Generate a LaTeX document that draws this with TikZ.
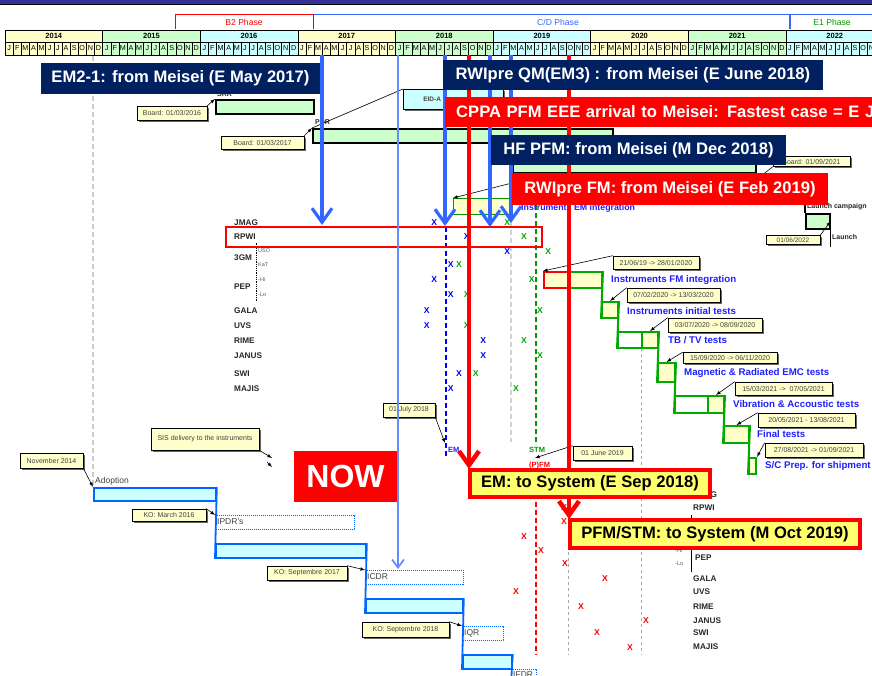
\documentclass[tikz,border=0pt]{standalone}
\usepackage{fontspec}
\setmainfont{Liberation Sans}
\usetikzlibrary{positioning,shadows,arrows,arrows.meta}

\definecolor{topbar}{RGB}{51,51,153}
\definecolor{yelc}{RGB}{255,255,204}
\definecolor{grnc}{RGB}{204,255,204}
\definecolor{cyac}{RGB}{204,255,255}
\definecolor{cream}{RGB}{255,255,204}
\definecolor{navy}{RGB}{0,32,96}
\definecolor{cdblue}{RGB}{51,102,255}
\definecolor{eogreen}{RGB}{0,153,0}
\definecolor{arrowblue}{RGB}{51,102,255}
\definecolor{thinblue}{RGB}{102,140,255}
\definecolor{barblue}{RGB}{0,102,255}
\definecolor{stairgreen}{RGB}{0,170,0}
\definecolor{labblue}{RGB}{30,30,255}
\definecolor{xgreen}{RGB}{0,170,0}
\definecolor{sysyellow}{RGB}{255,255,110}

\begin{document}
\begin{tikzpicture}[x=1pt,y=-1pt,>=latex,
  yearcell/.style={draw,line width=0.6pt,minimum width=97.62pt,minimum height=12pt,inner sep=0pt,font=\bfseries\fontsize{7.5}{8}\selectfont},
  monthcell/.style={draw,line width=0.5pt,minimum width=8.135pt,minimum height=13pt,inner sep=0pt,font=\fontsize{7.2}{8}\selectfont},
  phase/.style={inner sep=0pt,font=\fontsize{8.6}{10}\selectfont},
  bar/.style={draw,line width=1.6pt,fill=grnc,inner sep=0pt,anchor=north west},
  callout/.style={draw,line width=0.6pt,fill=cream,inner sep=0pt,font=\fontsize{7}{8}\selectfont,text=black!75,drop shadow={shadow xshift=1.6pt,shadow yshift=-1.6pt,fill=black!60,opacity=1}},
  banner/.style={fill=navy,inner sep=0pt,text=white,font=\bfseries\fontsize{16.6}{18}\selectfont},
  sysbox/.style={draw=red,line width=4pt,fill=sysyellow,inner sep=0pt,font=\bfseries\fontsize{16.6}{18}\selectfont},
  inst/.style={anchor=west,inner sep=0pt,font=\bfseries\fontsize{8.2}{9}\selectfont,text=black!85},
  subl/.style={anchor=west,inner sep=0pt,font=\fontsize{5.5}{6}\selectfont,text=black!65},
  xmark/.style={inner sep=0pt,font=\bfseries\fontsize{8.6}{9}\selectfont},
  stair/.style={draw=stairgreen,line width=2pt,fill=yelc,inner sep=0pt,anchor=north west},
  steplbl/.style={anchor=west,inner sep=0pt,text=labblue,font=\bfseries\fontsize{9.7}{11}\selectfont},
  bluebar/.style={draw=barblue,line width=1.8pt,fill=cyac,inner sep=0pt,anchor=north west},
  dotbox/.style={draw=barblue,line width=1pt,densely dotted,inner sep=0pt,anchor=north west},
  barlbl/.style={anchor=west,inner sep=0pt,font=\fontsize{8.5}{9}\selectfont,text=black!75},
  bigblue/.style={arrowblue,line width=3.2pt,-{Straight Barb[length=14pt,width=20pt]}},
  bigred/.style={red,line width=4.5pt,-{Straight Barb[length=14pt,width=20pt]}},
  guide/.style={dashed,line width=1.5pt,dash pattern=on 5pt off 3pt}
  ]
  \useasboundingbox (0,0) rectangle (872,676);

  % header
  \fill[topbar] (0,0) rectangle (872,4);
  \draw[line width=1pt] (0,5) -- (872,5);
  \node[phase,text=red] (ptwo) at (244,22) {B2 Phase};
  \draw[red,line width=1pt] (175,29) -- (175,15) -- (313,15) -- (313,29);
  \node[phase,text=cdblue] (pcd) at (558,22) {C/D Phase};
  \draw[cdblue,line width=1pt] (314,15) -- (872,15);
  \draw[cdblue,line width=1.8pt] (790,15) -- (790,29);
  \node[phase,text=eogreen] (pone) at (832,22) {E1 Phase};
  \foreach \yr/\col [count=\i from 0] in {2014/yelc,2015/grnc,2016/cyac,2017/yelc,2018/grnc,2019/cyac,2020/yelc,2021/grnc,2022/cyac}{
    \node[yearcell,fill=\col] (yr\yr) at ({53.81+97.62*\i},36) {\yr};
    \foreach \ml [count=\j from 0] in {J,F,M,A,M,J,J,A,S,O,N,D}
      \node[monthcell,fill=\col] (mo\yr-\j) at ({9.07+97.62*\i+8.135*\j},48.5) {\ml};
  }

  % reviews
  \draw[black!20,guide,line width=1.3pt] (93,56) -- (93,487);
  \node[bar,minimum width=98pt,minimum height=14pt] (srr) at (215,99) {};
  \node[bar,minimum width=300pt,minimum height=14pt] (pdr) at (312,128) {};
  \node[bar,minimum width=243pt,minimum height=32pt] (farbar) at (512,140) {};
  \node[inst,font=\bfseries\fontsize{7}{8}\selectfont] (lsrr) at (217,94.5) {SRR};
  \node[inst,font=\bfseries\fontsize{7}{8}\selectfont] (lpdr) at (315,122) {PDR};
  \node[callout,minimum width=70pt,minimum height=14pt] (brdsrr) at (172,113) {Board: 01/03/2016};
  \node[callout,minimum width=83pt,minimum height=13pt] (brdpdr) at (262.5,142.5) {Board: 01/03/2017};
  \node[callout,fill=cyac,anchor=north west,minimum width=100pt,minimum height=20pt,text width=60pt,align=left,font=\bfseries\fontsize{6.5}{7}\selectfont] (eida) at (403,89) {EID-A};
  \node[callout,minimum width=77pt,minimum height=10pt] (brdfar) at (811.5,161.5) {Board: 01/09/2021};
  \coordinate (farend) at (761,176);
  \draw[-latex,line width=0.6pt] (brdsrr.north east) -- (srr.north west);
  \draw[-latex,line width=0.6pt] (brdpdr.north east) -- (pdr.north west);
  \draw[line width=0.6pt] (pdr.north west) -- (eida.north west);
  \draw[line width=0.6pt] (brdfar.south west) -- (farend);

  % launch
  \node[bar,minimum width=24pt,minimum height=15pt] (launch) at (805,213) {};
  \draw[line width=1.6pt] (launch.north west) -- ++(0,-10);
  \draw[line width=1.6pt] (launch.south east) -- ++(0,17);
  \node[inst,font=\bfseries\fontsize{7}{8}\selectfont] (llaunchc) at (807,207) {Launch campaign};
  \node[inst,font=\bfseries\fontsize{7}{8}\selectfont] (llaunch) at (832,237) {Launch};
  \node[callout,minimum width=54pt,minimum height=9pt,font=\fontsize{6.5}{7}\selectfont] (lchdate) at (793,240) {01/06/2022};
  \draw[-latex,line width=0.6pt] (lchdate.north east) -- (launch.east);

  % instruments (upper list)
  \foreach \nm/\yy in {JMAG/222.7,RPWI/236.7,3GM/257.7,PEP/286.7,GALA/310.7,UVS/326,RIME/340.7,JANUS/355.7,SWI/373.3,MAJIS/389}
    \node[inst] (up\nm) at (234,\yy) {\nm};
  \foreach \sl/\yy [count=\k] in {USO/250.7,KaT/264.7,-Hi/279.3,-Lo/294.7}
    \node[subl] (usub\k) at (258,\yy) {\sl};
  \draw[densely dotted,line width=0.8pt] (256.7,242.7) -- (256.7,301.7);

  % guide lines
  \draw[blue,guide] (446,227) -- (446,457);
  \draw[black!18,guide] (511,222) -- (511,442);
  \draw[eogreen,guide] (536,205) -- (536,445);
  \draw[red,guide] (536,470) -- (536,655);
  \draw[black!35,dashed,line width=0.7pt] (568,552) -- (568,655);
  \draw[black!35,dashed,line width=0.7pt] (641,348) -- (641,655);

  \foreach \px/\py [count=\k] in {434.3/222.7,466.7/237,507.3/251.3,450.7/264.7,434.3/279.3,450.7/294.7,426.7/310.7,426.7/326,483.3/341,483.3/356,459/373.3,450.7/389}
    \node[xmark,text=blue] (bx\k) at (\px,\py) {X};
  \foreach \px/\py [count=\k] in {507.3/222.7,524/237,548.3/251.3,459/264.7,531.7/279.3,466.7/294.7,540/310.7,466.7/326,524/341,540/356,475.7/373.3,516/389}
    \node[xmark,text=xgreen] (gx\k) at (\px,\py) {X};

  \node[inst,text=labblue,font=\bfseries\fontsize{7.5}{8}\selectfont] (lem) at (448,450) {EM};
  \node[inst,text=eogreen,font=\bfseries\fontsize{7.5}{8}\selectfont] (lstm) at (529,450) {STM};
  \node[inst,text=red,font=\bfseries\fontsize{7.5}{8}\selectfont] (lpfm) at (529,466) {(P)FM};
  \coordinate (emmark) at (445,443);
  \coordinate (stmmark) at (535,458);
  \node[callout,minimum width=52pt,minimum height=14pt] (cjul) at (409,410) {01 July 2018};
  \node[callout,minimum width=59pt,minimum height=14pt] (cjun) at (602.5,453) {01 June 2019};
  \draw[-latex,line width=0.6pt] (cjul.south east) -- (emmark);
  \draw[-latex,line width=0.6pt] (cjun.north west) -- (stmmark);

  % integration and tests
  \node[stair,draw=eogreen,line width=1.4pt,minimum width=57pt,minimum height=16pt] (emint) at (453,198) {};
  \node[steplbl,font=\bfseries\fontsize{8.8}{10}\selectfont] (lemint) at (521,208) {Instruments EM integration};
  \coordinate (emintc) at (512,183);
  \draw[-latex,line width=0.6pt] (emintc) -- (emint.north west);

  \node[stair,draw=red,minimum width=26pt,minimum height=16pt] (fmred) at (543,271) {};
  \node[stair,minimum width=32pt,minimum height=16pt] (fmint) at (569,271) {};
  \node[stair,minimum width=16pt,minimum height=16pt] (init) at (601,301) {};
  \node[stair,fill=white,minimum width=24pt,minimum height=16pt] (tbw) at (617,331) {};
  \node[stair,minimum width=16pt,minimum height=16pt] (tbtv) at (641,331) {};
  \node[stair,minimum width=17pt,minimum height=19pt] (emc) at (657,362) {};
  \node[stair,fill=white,minimum width=33pt,minimum height=17pt] (vibw) at (674,395) {};
  \node[stair,minimum width=16pt,minimum height=17pt] (vib) at (707,395) {};
  \node[stair,minimum width=25pt,minimum height=17pt] (fin) at (723,425) {};
  \node[stair,minimum width=7pt,minimum height=16pt] (ship) at (748,457) {};
  \draw[stairgreen,line width=2pt] (fmint.north east) -- (init.south west);
  \draw[stairgreen,line width=2pt] (init.north east) -- (tbw.south west);
  \draw[stairgreen,line width=2pt] (tbtv.north east) -- (emc.south west);
  \draw[stairgreen,line width=2pt] (emc.north east) -- (vibw.south west);
  \draw[stairgreen,line width=2pt] (vib.north east) -- (fin.south west);
  \draw[stairgreen,line width=2pt] (fin.north east) -- (ship.south west);

  \node[steplbl] (lfm) at (611,280) {Instruments FM integration};
  \node[steplbl] (linit) at (627,311) {Instruments initial tests};
  \node[steplbl] (ltbtv) at (668,340) {TB / TV tests};
  \node[steplbl] (lemc) at (684,373) {Magnetic \& Radiated EMC tests};
  \node[steplbl] (lvib) at (733,404) {Vibration \& Accoustic tests};
  \node[steplbl] (lfin) at (757,434) {Final tests};
  \node[steplbl] (lship) at (765,466) {S/C Prep. for shipment};

  \node[callout,minimum width=86pt,minimum height=13pt] (cfm) at (656,262.5) {21/06/19 -> 28/01/2020};
  \node[callout,minimum width=93pt,minimum height=14pt] (cinit) at (673.5,295) {07/02/2020 -> 13/03/2020};
  \node[callout,minimum width=94pt,minimum height=14pt] (ctbtv) at (715,325) {03/07/2020 -> 08/09/2020};
  \node[callout,minimum width=94pt,minimum height=11pt] (cemc) at (730,358) {15/09/2020 -> 06/11/2020};
  \node[callout,minimum width=97pt,minimum height=13pt] (cvib) at (783.5,388.5) {15/03/2021 ->~ 07/05/2021};
  \node[callout,minimum width=97pt,minimum height=14pt] (cfin) at (806.5,420) {20/05/2021 - 13/08/2021};
  \node[callout,minimum width=98pt,minimum height=14pt] (cship) at (814,450) {27/08/2021 -> 01/09/2021};
  \draw[-latex,line width=0.6pt] (cfm.north west) -- (fmred.north west);
  \draw[-latex,line width=0.6pt] (cinit.north west) -- (init.north);
  \draw[-latex,line width=0.6pt] (ctbtv.north west) -- (tbtv.north);
  \draw[-latex,line width=0.6pt] (cemc.north west) -- (emc.north);
  \draw[-latex,line width=0.6pt] (cvib.north west) -- (vib.north);
  \draw[-latex,line width=0.6pt] (cfin.north west) -- (fin.north);
  \draw[-latex,line width=0.6pt] (cship.north west) -- (ship.north east);

  % instrument reviews (blue)
  \node[bluebar,minimum width=122pt,minimum height=13pt] (adopt) at (93,487) {};
  \node[dotbox,minimum width=139pt,minimum height=14pt] (ipdr) at (215,515) {};
  \node[bluebar,minimum width=150pt,minimum height=14pt] (kopre) at (215,543) {};
  \node[dotbox,minimum width=98pt,minimum height=14pt] (icdr) at (365,570) {};
  \node[bluebar,minimum width=97pt,minimum height=14pt] (kocdr) at (365,598) {};
  \node[dotbox,minimum width=41pt,minimum height=14pt] (iqr) at (462,626) {};
  \node[bluebar,minimum width=49pt,minimum height=14pt] (koqr) at (462,654) {};
  \node[dotbox,minimum width=25pt,minimum height=14pt] (ifdr) at (511,669) {};
  \draw[barblue,line width=1.8pt] (adopt.north east) -- (kopre.south west);
  \draw[barblue,line width=1.8pt] (kopre.north east) -- (kocdr.south west);
  \draw[barblue,line width=1.8pt] (kocdr.north east) -- (koqr.south west);
  \draw[barblue,line width=1.8pt] (koqr.north east) -- (ifdr.south west);
  \node[barlbl] (ladopt) at (95,481) {Adoption};
  \node[barlbl] (lipdr) at (217,522) {IPDR's};
  \node[barlbl] (licdr) at (367,577) {ICDR};
  \node[barlbl] (liqr) at (464,633) {IQR};
  \node[barlbl] (lifdr) at (513,675) {IFDR};

  \node[callout,minimum width=63pt,minimum height=15pt] (cnov) at (51.5,460.5) {November 2014};
  \node[callout,minimum width=108pt,minimum height=22pt] (csis) at (205,439) {SIS delivery to the instruments};
  \node[callout,minimum width=74pt,minimum height=12pt] (ckom) at (169,515) {KO: March 2016};
  \node[callout,minimum width=80pt,minimum height=14pt] (ckoa) at (307,573) {KO: Septembre 2017};
  \node[callout,minimum width=87pt,minimum height=15pt] (ckob) at (405.5,629.5) {KO: Septembre 2018};
  \coordinate (sisend) at (272,458);
  \coordinate (sisa) at (267,462);
  \coordinate (sisb) at (272,467);
  \draw[-latex,line width=0.6pt] (cnov.south east) -- (adopt.north west);
  \draw[-latex,line width=0.6pt] (csis.south east) -- (sisend);
  \draw[->,line width=0.6pt] (sisa) -- (sisb);
  \draw[-latex,line width=0.6pt] (ckom.north east) -- (ipdr.north west);
  \draw[-latex,line width=0.6pt] (ckoa.north east) -- (icdr.north west);
  \draw[-latex,line width=0.6pt] (ckob.north east) -- (iqr.north west);

  % instruments (lower list)
  \foreach \nm/\yy in {JMAG/495,RPWI/508,GALA/579,UVS/592,RIME/607,JANUS/621,SWI/633,MAJIS/647}
    \node[inst] (lo\nm) at (693,\yy) {\nm};
  \node[inst] (loPEP) at (695,558) {PEP};
  \node[subl] (lsubhi) at (675,551) {-Hi};
  \node[subl] (lsublo) at (675,564) {-Lo};
  \draw[line width=1pt] (691,515) -- (691,572);
  \foreach \px/\py [count=\k] in {564/508,564/522,524/537,541/551,565/564,605/579,516/592,581/607,646/621,597/633,630/648}
    \node[xmark,text=red] (rx\k) at (\px,\py) {X};

  \draw[red,line width=2.5pt] (226,227) rectangle (542,247);

  % deliveries
  \node[fill=red,inner sep=0pt,minimum width=103pt,minimum height=51pt,text=white,font=\bfseries\fontsize{32}{34}\selectfont] (NOW) at (345.5,476.5) {NOW};
  \coordinate (tb0) at (398,55);  \coordinate (eb0) at (398,569);
  \coordinate (tb1) at (322,55);  \coordinate (eb1) at (322,225);
  \coordinate (tb2) at (445,55);  \coordinate (eb2) at (445,226);
  \coordinate (tb3) at (490,55);  \coordinate (eb3) at (490,227);
  \coordinate (tb4) at (511,55);  \coordinate (eb4) at (511,223);
  \coordinate (tr1) at (469,55);  \coordinate (er1) at (469,469);
  \coordinate (tr2) at (569,55);  \coordinate (er2) at (569,519);
  \draw[thinblue,line width=1.8pt,-{Straight Barb[length=8pt,width=12pt]}] (tb0) -- (eb0);
  \draw[bigblue] (tb1) -- (eb1);
  \draw[bigblue] (tb2) -- (eb2);
  \draw[bigblue] (tb3) -- (eb3);
  \draw[bigblue] (tb4) -- (eb4);
  \draw[bigred] (tr1) -- (er1);
  \draw[bigred] (tr2) -- (er2);

  \node[banner,minimum width=279pt,minimum height=31pt] (emtwo) at (180.5,78.5) {EM2-1: from Meisei (E May 2017)};
  \node[banner,minimum width=380pt,minimum height=30pt] (rwiqm) at (633,75) {RWIpre QM(EM3) : from Meisei (E June 2018)};
  \node[banner,fill=red,anchor=west,minimum height=30pt,text width=440pt,align=left,inner xsep=11pt] (cppa) at (445,112) {CPPA PFM EEE arrival to Meisei: Fastest case = E Ju};
  \node[banner,minimum width=295pt,minimum height=30pt] (hfpfm) at (638.5,150) {HF PFM: from Meisei (M Dec 2018)};
  \node[banner,fill=red,minimum width=316pt,minimum height=32pt] (rwifm) at (670,189) {RWIpre FM: from Meisei (E Feb 2019)};
  \node[sysbox,minimum width=240pt,minimum height=27pt] (emsys) at (590,483.5) {EM: to System (E Sep 2018)};
  \node[sysbox,minimum width=290pt,minimum height=28pt] (pfmsys) at (715,534) {PFM/STM: to System (M Oct 2019)};
\end{tikzpicture}
\end{document}
